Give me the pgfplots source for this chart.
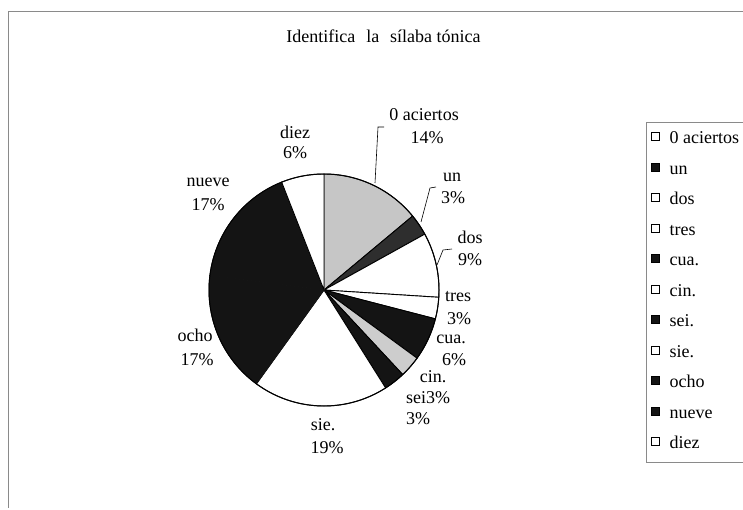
\documentclass[border=0pt]{standalone}
\usepackage{fontspec}
\setmainfont{Liberation Serif}
\usepackage{pgfplots}
\pgfplotsset{compat=1.18}

\definecolor{pieblack}{HTML}{141414}
\definecolor{piegray}{HTML}{C6C6C6}
\definecolor{undark}{HTML}{2E2E2E}
\definecolor{cingray}{HTML}{CDCDCD}
\definecolor{framegray}{HTML}{8A8A8A}

\newcommand{\cx}{324}
\newcommand{\cy}{219}
\newcommand{\rx}{115}
\newcommand{\ry}{116}
% #1 = cumulative percent at start, #2 = cumulative percent at end, #3 = fill, #4 = edge
\newcommand{\slice}[4]{%
  \addplot[draw=#4, line width=0.9pt, fill=#3, forget plot,
    domain={90-3.6*(#2)}:{90-3.6*(#1)}, samples=60]
    ({\cx+\rx*cos(x)},{\cy+\ry*sin(x)}) -- (axis cs:\cx,\cy) -- cycle;}
\newcommand{\lbl}{\fontsize{18}{20}\selectfont}

\begin{document}
\begin{tikzpicture}
\begin{axis}[
  x=1pt, y=1pt, xmin=0, xmax=743, ymin=0, ymax=509,
  anchor=origin, hide axis, clip=false,
  legend style={at={(axis cs:646,387)}, anchor=north west,
    draw=framegray, line width=0.7pt, fill=white,
    inner xsep=5pt, inner ysep=9.5pt,
    font=\lbl, row sep=15pt, column sep=0pt,
    nodes={inner sep=0pt, text height=12pt, text depth=3.5pt}},
  legend cell align=left,
  legend image code/.code={\draw[#1, line width=0.7pt] (0pt,-1pt) rectangle (8pt,7pt); \path[draw=none, fill=none] (8pt,0pt) -- (18pt,0pt);},
]
% slices: 0 aciertos 14, un 3, dos 9, tres 3, cua 6, cin 3, sei 3, sie 19, ocho 17, nueve 17, diez 6
\slice{0}{14}{piegray}{black}
\slice{14}{17}{undark}{black}
\slice{17}{26}{white}{black}
\slice{26}{29}{white}{black}
\slice{29}{35}{pieblack}{black}
\slice{35}{38}{cingray}{black}
\slice{38}{41}{pieblack}{black}
\slice{41}{60}{white}{black}
\slice{60}{77}{pieblack}{pieblack}
\slice{77}{94}{pieblack}{pieblack}
\slice{94}{100}{white}{black}
% outline of the pie
\addplot[draw=black, line width=1pt, forget plot, domain=0:360, samples=181]
  ({\cx+\rx*cos(x)},{\cy+\ry*sin(x)});

\addlegendimage{draw=black, fill=white}\addlegendentry{0 aciertos}
\addlegendimage{draw=black, fill=pieblack}\addlegendentry{un}
\addlegendimage{draw=black, fill=white}\addlegendentry{dos}
\addlegendimage{draw=black, fill=white}\addlegendentry{tres}
\addlegendimage{draw=black, fill=pieblack}\addlegendentry{cua.}
\addlegendimage{draw=black, fill=white}\addlegendentry{cin.}
\addlegendimage{draw=black, fill=pieblack}\addlegendentry{sei.}
\addlegendimage{draw=black, fill=white}\addlegendentry{sie.}
\addlegendimage{draw=black, fill=pieblack}\addlegendentry{ocho}
\addlegendimage{draw=black, fill=pieblack}\addlegendentry{nueve}
\addlegendimage{draw=black, fill=white}\addlegendentry{diez}

% frame
\draw[framegray, line width=0.8pt] (axis cs:8,1.5) -- (axis cs:8,498) -- (axis cs:760,498);
% title
\node[font=\lbl] at (axis cs:383.5,473) {Identifica\hspace{0.6em}la\hspace{0.6em}sílaba tónica};
% leader lines
\draw[black, line width=0.6pt] (axis cs:375,326) -- (axis cs:378,382) -- (axis cs:384,382);
\draw[black, line width=0.6pt] (axis cs:421,287) -- (axis cs:430,321) -- (axis cs:436,322);
\draw[black, line width=0.6pt] (axis cs:437,244) -- (axis cs:443,259) -- (axis cs:452,260);
% labels
\node[font=\lbl] at (axis cs:424,394) {0 aciertos};
\node[font=\lbl] at (axis cs:427,371) {14\%};
\node[font=\lbl] at (axis cs:452,332) {un};
\node[font=\lbl] at (axis cs:453,311) {3\%};
\node[font=\lbl] at (axis cs:295,377) {diez};
\node[font=\lbl] at (axis cs:295,356) {6\%};
\node[font=\lbl] at (axis cs:208,327) {nueve};
\node[font=\lbl] at (axis cs:208,304) {17\%};
\node[font=\lbl] at (axis cs:470,272) {dos};
\node[font=\lbl] at (axis cs:470,249) {9\%};
\node[font=\lbl] at (axis cs:458,212) {tres};
\node[font=\lbl] at (axis cs:459,190) {3\%};
\node[font=\lbl] at (axis cs:451,170) {cua.};
\node[font=\lbl] at (axis cs:454,149) {6\%};
\node[font=\lbl] at (axis cs:433,132) {cin.};
\node[font=\lbl] at (axis cs:428,111) {sei3\%};
\node[font=\lbl] at (axis cs:418,90) {3\%};
\node[font=\lbl] at (axis cs:195,174) {ocho};
\node[font=\lbl] at (axis cs:197,149) {17\%};
\node[font=\lbl] at (axis cs:323,84) {sie.};
\node[font=\lbl] at (axis cs:327,61) {19\%};
\end{axis}
\pgfresetboundingbox
\path (0,0) rectangle (743pt,509pt);
\end{tikzpicture}
\end{document}
